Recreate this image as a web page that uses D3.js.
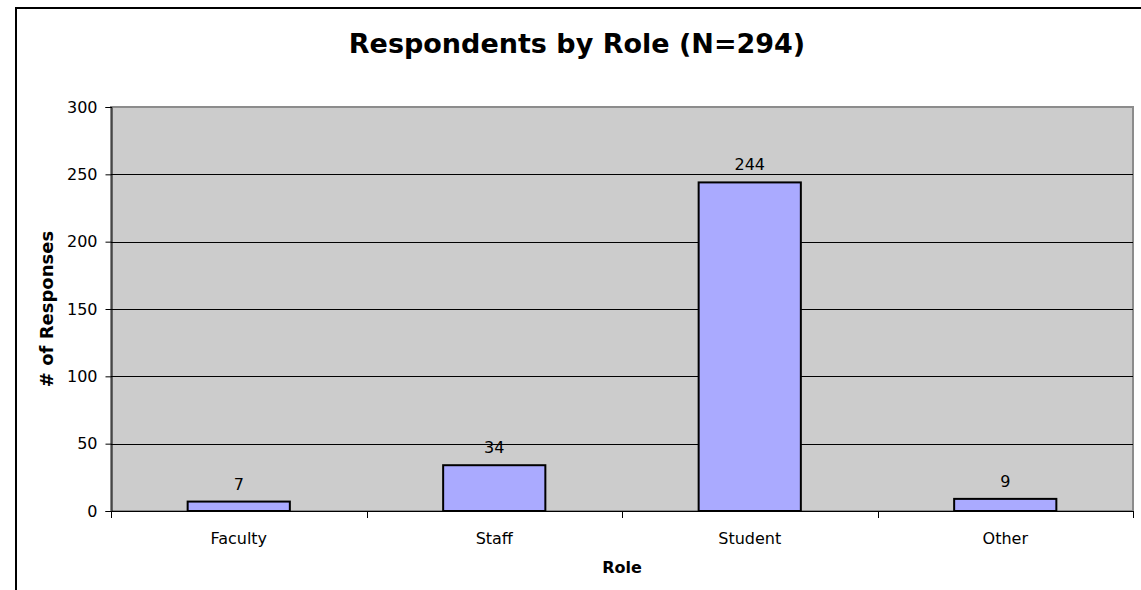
<!DOCTYPE html>
<html><head><meta charset="utf-8">
<script src="https://cdn.jsdelivr.net/npm/d3@7"></script>
<style>body{margin:0;background:#fff}svg{display:block}</style>
</head><body>
<svg id="c" width="1141" height="590"></svg>
<script>
const categories = ["Faculty", "Staff", "Student", "Other"];
const values = [7, 34, 244, 9];
const yTicks = [0, 50, 100, 150, 200, 250, 300];
const title = "Respondents by Role (N=294)";
const xTitle = "Role";
const yTitle = "# of Responses";

const svg = d3.select("#c");
const font = "'DejaVu Sans', Verdana, sans-serif";
const L = 111, R = 1133, T = 107, B = 511;

// outer border
svg.append("rect").attr("x",16).attr("y",8).attr("width",1141).attr("height",600)
  .attr("fill","#fff").attr("stroke","#000").attr("stroke-width",2);

const x = d3.scaleBand().domain(categories).range([L, R]).padding(0);
const y = d3.scaleLinear().domain([0, 300]).range([B, T]);

// plot area
svg.append("rect").attr("x",L).attr("y",T).attr("width",R-L).attr("height",B-T)
  .attr("fill","#cccccc").attr("stroke","#8c8c8c").attr("stroke-width",2);

// gridlines
svg.append("g").selectAll("line").data(yTicks.filter(d=>d>0 && d<300)).join("line")
  .attr("x1",L).attr("x2",R).attr("y1",d=>Math.round(y(d))+0.5).attr("y2",d=>Math.round(y(d))+0.5)
  .attr("stroke","#000").attr("stroke-width",1);

// y axis
const ya = svg.append("g").attr("transform",`translate(${L+0.5},0)`)
  .call(d3.axisLeft(y).tickValues(yTicks).tickSize(6).tickPadding(8));
ya.selectAll("text").attr("font-family",font).attr("font-size",16).attr("fill","#000");
ya.selectAll("line,path").attr("stroke","#000");

// bars
const bw = x.bandwidth()*0.4;
svg.append("g").selectAll("rect").data(values).join("rect")
  .attr("x",(d,i)=>x(categories[i])+x.bandwidth()/2-bw/2)
  .attr("y",d=>y(d))
  .attr("width",bw)
  .attr("height",d=>B-y(d))
  .attr("fill","#aaaaff").attr("stroke","#000").attr("stroke-width",2);

// labels
svg.append("g").selectAll("text").data(values).join("text")
  .attr("x",(d,i)=>x(categories[i])+x.bandwidth()/2)
  .attr("y",d=>y(d)-12)
  .attr("text-anchor","middle").attr("font-family",font).attr("font-size",16).attr("fill","#000")
  .text(d=>d);

// x axis
const xa = svg.append("g").attr("transform",`translate(0,${B+0.5})`)
  .call(d3.axisBottom(x).tickSize(0).tickPadding(21));
xa.selectAll("text").attr("font-family",font).attr("font-size",16).attr("fill","#000");
xa.select("path").attr("stroke","#000").attr("d",`M${L},0H${R}`);
// x ticks at category boundaries
svg.append("g").selectAll("line").data(categories.concat(["_end"])).join("line")
  .attr("x1",(d,i)=>Math.round(L + i*x.bandwidth())+0.5)
  .attr("x2",(d,i)=>Math.round(L + i*x.bandwidth())+0.5)
  .attr("y1",B).attr("y2",B+7).attr("stroke","#000");

// titles
svg.append("text").attr("x",577).attr("y",53).attr("text-anchor","middle")
  .attr("font-family",font).attr("font-size",27).attr("font-weight","bold").text(title);
svg.append("text").attr("x",(L+R)/2).attr("y",573).attr("text-anchor","middle")
  .attr("font-family",font).attr("font-size",16).attr("font-weight","bold").text(xTitle);
svg.append("text").attr("transform",`translate(53,${(T+B)/2}) rotate(-90)`).attr("text-anchor","middle")
  .attr("font-family",font).attr("font-size",18).attr("font-weight","bold").text(yTitle);
</script>
</body></html>
